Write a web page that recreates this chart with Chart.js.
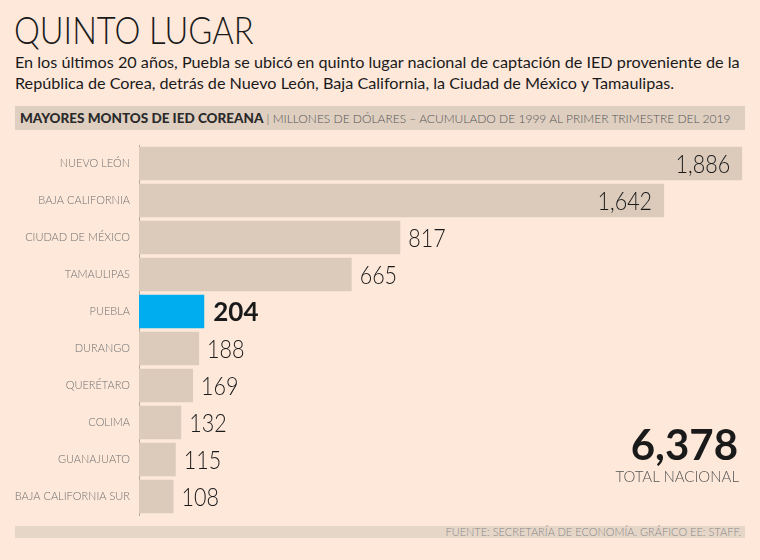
<!DOCTYPE html>
<html>
<head>
<meta charset="utf-8">
<script src="https://cdn.jsdelivr.net/npm/chart.js@4"></script>
<style>
	body{margin:0;background:#fde8da;width:760px;height:560px;overflow:hidden;font-family:Lato, "Open Sans", sans-serif;color:#1a1a1a;position:relative;}
	#title{position:absolute;left:14px;top:6px;font-size:38px;font-weight:300;transform:scaleX(0.86);transform-origin:left top;white-space:nowrap;}
	#sub{position:absolute;left:15px;top:51px;width:745px;font-size:16.2px;line-height:21px;font-weight:400;}
	#band{position:absolute;left:15px;top:106px;width:730px;height:24px;background:#dfcfc1;font-size:12px;line-height:24px;color:#555;white-space:nowrap;}
	#band b{color:#2a2a2a;font-weight:900;font-size:13.5px;margin-left:5px;}
	#band span{font-weight:300;}
	#wrap{position:absolute;left:0;top:140px;width:760px;height:380px;}
	#total{position:absolute;right:22px;top:419px;font-size:42px;font-weight:700;text-align:right;line-height:50px;}
	#totlab{position:absolute;right:21px;top:467px;font-size:15px;font-weight:300;color:#555;}
	#foot{position:absolute;left:15px;top:526px;width:730px;height:12px;background:#e6d6c8;font-size:11px;line-height:12px;text-align:right;color:#888;font-weight:300;}
	#foot span{margin-right:4px;}
</style>
</head>
<body>
<div id="title">QUINTO LUGAR</div>
<div id="sub">En los últimos 20 años, Puebla se ubicó en quinto lugar nacional de captación de IED proveniente de la República de Corea, detrás de Nuevo León, Baja California, la Ciudad de México y Tamaulipas.</div>
<div id="band"><b>MAYORES MONTOS DE IED COREANA</b> <span>| MILLONES DE DÓLARES – ACUMULADO DE 1999 AL PRIMER TRIMESTRE DEL 2019</span></div>
<div id="wrap"><canvas></canvas></div>
<div id="total">6,378</div>
<div id="totlab">TOTAL NACIONAL</div>
<div id="foot"><span>FUENTE: SECRETARÍA DE ECONOMÍA. GRÁFICO EE: STAFF.</span></div>
<script>
let estados = ['NUEVO LEÓN', 'BAJA CALIFORNIA', 'CIUDAD DE MÉXICO', 'TAMAULIPAS', 'PUEBLA', 'DURANGO', 'QUERÉTARO', 'COLIMA', 'GUANAJUATO', 'BAJA CALIFORNIA SUR'];
let montos = [1886, 1642, 817, 665, 204, 188, 169, 132, 115, 108];
let destacado = 'PUEBLA';

let colores = estados.map(e => e == destacado ? '#00adef' : '#dccbbb');

let ctx = document.querySelector('canvas').getContext('2d');

// etiquetas de valor al final de cada barra
let etiquetas = {
	id: 'etiquetas',
	afterDatasetsDraw(chart){
		let c = chart.ctx;
		let meta = chart.getDatasetMeta(0);
		meta.data.forEach((bar, i) => {
			let txt = montos[i].toLocaleString('en-US');
			let fuerte = estados[i] == destacado;
			c.save();
			c.textBaseline = 'middle';
			c.fillStyle = '#1a1a1a';
			if(fuerte){
				c.font = '700 26px Lato, "Open Sans", sans-serif';
				c.textAlign = 'left';
				c.fillText(txt, bar.x + 9, bar.y + 1);
			}else{
				c.font = '300 25px Lato, "Open Sans", sans-serif';
				if(montos[i] > 1000){
					c.translate(bar.x - 12, bar.y + 1);
					c.textAlign = 'right';
				}else{
					c.translate(bar.x + 8, bar.y + 1);
					c.textAlign = 'left';
				}
				c.scale(0.86, 1);
				c.fillText(txt, 0, 0);
			}
			c.restore();
		});
	}
};

let chart = new Chart(ctx, {
	type: 'bar',
	data: {
		labels: estados,
		datasets: [{
			data: montos,
			backgroundColor: colores,
			barPercentage: 0.9,
			categoryPercentage: 1.0
		}]
	},
	options: {
		indexAxis: 'y',
		responsive: true,
		maintainAspectRatio: false,
		animation: false,
		layout: {padding: {top: 5, bottom: 5, right: 15, left: 0}},
		plugins: {legend: {display: false}, tooltip: {enabled: false}},
		scales: {
			x: {display: false, min: 0, max: 1895},
			y: {
				afterFit: s => { s.width = 139; s.paddingTop = 0; s.paddingBottom = 0; },
				grid: {display: false, drawTicks: false},
				border: {display: true, color: '#b5a597', width: 1},
				ticks: {color: '#707070', padding: 9, font: {family: 'Lato, "Open Sans", sans-serif', size: 11, weight: 300}}
			}
		}
	},
	plugins: [etiquetas]
});
</script>
</body>
</html>
